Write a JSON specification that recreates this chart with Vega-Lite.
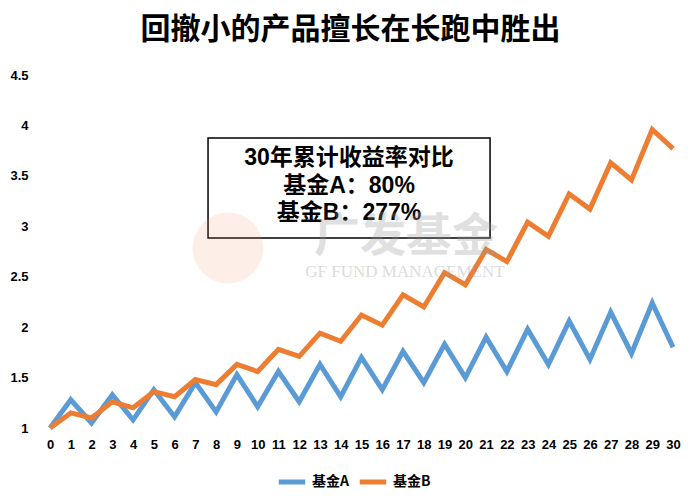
{
  "$schema": "https://vega.github.io/schema/vega-lite/v6.json",
  "width": 623,
  "height": 353,
  "autosize": "none",
  "padding": {"left": 50, "top": 75, "right": 27, "bottom": 68},
  "background": "white",
  "config": {
    "view": {"stroke": null},
    "font": "Liberation Sans, Noto Sans CJK SC",
    "axis": {"labelOverlap": false, "labelBound": false, "labelFlush": false}
  },
  "resolve": {"axis": {"x": "independent", "y": "independent"}},
  "title": {
    "text": "回撤小的产品擅长在长跑中胜出",
    "font": "Noto Sans CJK SC",
    "fontSize": 30,
    "fontWeight": "bold",
    "color": "#000000",
    "anchor": "middle",
    "dx": -11,
    "offset": 24
  },
  "datasets": {
    "funds": [
      {"year": 0, "fund": "基金A", "value": 1.0},
      {"year": 1, "fund": "基金A", "value": 1.28},
      {"year": 2, "fund": "基金A", "value": 1.05},
      {"year": 3, "fund": "基金A", "value": 1.33},
      {"year": 4, "fund": "基金A", "value": 1.08},
      {"year": 5, "fund": "基金A", "value": 1.38},
      {"year": 6, "fund": "基金A", "value": 1.11},
      {"year": 7, "fund": "基金A", "value": 1.45},
      {"year": 8, "fund": "基金A", "value": 1.16},
      {"year": 9, "fund": "基金A", "value": 1.53},
      {"year": 10, "fund": "基金A", "value": 1.21},
      {"year": 11, "fund": "基金A", "value": 1.56},
      {"year": 12, "fund": "基金A", "value": 1.26},
      {"year": 13, "fund": "基金A", "value": 1.63},
      {"year": 14, "fund": "基金A", "value": 1.31},
      {"year": 15, "fund": "基金A", "value": 1.70},
      {"year": 16, "fund": "基金A", "value": 1.38},
      {"year": 17, "fund": "基金A", "value": 1.76},
      {"year": 18, "fund": "基金A", "value": 1.45},
      {"year": 19, "fund": "基金A", "value": 1.83},
      {"year": 20, "fund": "基金A", "value": 1.50},
      {"year": 21, "fund": "基金A", "value": 1.90},
      {"year": 22, "fund": "基金A", "value": 1.56},
      {"year": 23, "fund": "基金A", "value": 1.98},
      {"year": 24, "fund": "基金A", "value": 1.63},
      {"year": 25, "fund": "基金A", "value": 2.06},
      {"year": 26, "fund": "基金A", "value": 1.68},
      {"year": 27, "fund": "基金A", "value": 2.15},
      {"year": 28, "fund": "基金A", "value": 1.74},
      {"year": 29, "fund": "基金A", "value": 2.24},
      {"year": 30, "fund": "基金A", "value": 1.80},
      {"year": 0, "fund": "基金B", "value": 1.0},
      {"year": 1, "fund": "基金B", "value": 1.15},
      {"year": 2, "fund": "基金B", "value": 1.10},
      {"year": 3, "fund": "基金B", "value": 1.26},
      {"year": 4, "fund": "基金B", "value": 1.20},
      {"year": 5, "fund": "基金B", "value": 1.36},
      {"year": 6, "fund": "基金B", "value": 1.31},
      {"year": 7, "fund": "基金B", "value": 1.48},
      {"year": 8, "fund": "基金B", "value": 1.43},
      {"year": 9, "fund": "基金B", "value": 1.63},
      {"year": 10, "fund": "基金B", "value": 1.56},
      {"year": 11, "fund": "基金B", "value": 1.78},
      {"year": 12, "fund": "基金B", "value": 1.71},
      {"year": 13, "fund": "基金B", "value": 1.94},
      {"year": 14, "fund": "基金B", "value": 1.86},
      {"year": 15, "fund": "基金B", "value": 2.12},
      {"year": 16, "fund": "基金B", "value": 2.02},
      {"year": 17, "fund": "基金B", "value": 2.32},
      {"year": 18, "fund": "基金B", "value": 2.20},
      {"year": 19, "fund": "基金B", "value": 2.54},
      {"year": 20, "fund": "基金B", "value": 2.42},
      {"year": 21, "fund": "基金B", "value": 2.77},
      {"year": 22, "fund": "基金B", "value": 2.65},
      {"year": 23, "fund": "基金B", "value": 3.04},
      {"year": 24, "fund": "基金B", "value": 2.90},
      {"year": 25, "fund": "基金B", "value": 3.32},
      {"year": 26, "fund": "基金B", "value": 3.17},
      {"year": 27, "fund": "基金B", "value": 3.63},
      {"year": 28, "fund": "基金B", "value": 3.46},
      {"year": 29, "fund": "基金B", "value": 3.96},
      {"year": 30, "fund": "基金B", "value": 3.77}
    ],
    "box": [
      {"line": "30年累计收益率对比", "order": 1},
      {"line": "基金A：80%", "order": 2},
      {"line": "基金B：277%", "order": 3}
    ],
    "single": [{"k": 1}]
  },
  "layer": [
    {
      "data": {"name": "funds"},
      "mark": {"type": "line", "strokeWidth": 5, "strokeJoin": "miter", "strokeCap": "butt"},
      "encoding": {
        "x": {
          "field": "year", "type": "quantitative",
          "scale": {"domain": [0, 30], "nice": false},
          "axis": {
            "title": null, "values": [0,1,2,3,4,5,6,7,8,9,10,11,12,13,14,15,16,17,18,19,20,21,22,23,24,25,26,27,28,29,30],
            "domain": false, "ticks": false, "grid": false, "labelOverlap": false, "format": "d",
            "labelFontSize": 13, "labelFontWeight": "bold", "labelColor": "#000000",
            "labelPadding": 10, "labelFont": "Liberation Sans"
          }
        },
        "y": {
          "field": "value", "type": "quantitative",
          "scale": {"domain": [1, 4.5], "nice": false, "zero": false},
          "axis": {
            "title": null, "values": [1, 1.5, 2, 2.5, 3, 3.5, 4, 4.5],
            "domain": false, "ticks": false, "grid": false, "labelOverlap": false, "format": "~g",
            "labelFontSize": 13, "labelFontWeight": "bold", "labelColor": "#000000",
            "labelPadding": 22, "labelFont": "Liberation Sans"
          }
        },
        "color": {
          "field": "fund", "type": "nominal",
          "scale": {"domain": ["基金A", "基金B"], "range": ["#5B9BD5", "#ED7D31"]},
          "legend": {
            "title": null, "orient": "none", "direction": "horizontal",
            "legendX": 226, "legendY": 391,
            "symbolType": "stroke", "symbolStrokeWidth": 5, "symbolSize": 700,
            "labelFontSize": 14, "labelFontWeight": "bold", "labelColor": "#000000",
            "labelFont": "Noto Sans CJK SC", "labelOffset": 4, "columnPadding": 0
          }
        }
      }
    },
    {
      "data": {"name": "single"},
      "mark": {"type": "rect", "fill": "white", "stroke": "#000000", "strokeWidth": 1.5},
      "encoding": {
        "x": {"datum": 7.61, "axis": null},
        "x2": {"datum": 21.19},
        "y": {"datum": 3.875, "axis": null},
        "y2": {"datum": 2.884}
      }
    },
    {
      "data": {"name": "box"},
      "transform": [{"filter": "datum.order == 1"}],
      "mark": {"type": "text", "fontSize": 23, "fontWeight": "bold", "color": "#000000", "font": "Liberation Sans, Noto Sans CJK SC", "align": "center", "baseline": "middle"},
      "encoding": {"x": {"datum": 14.4, "axis": null}, "y": {"datum": 3.677, "axis": null}, "text": {"field": "line"}}
    },
    {
      "data": {"name": "box"},
      "transform": [{"filter": "datum.order == 2"}],
      "mark": {"type": "text", "fontSize": 23, "fontWeight": "bold", "color": "#000000", "font": "Liberation Sans, Noto Sans CJK SC", "align": "center", "baseline": "middle"},
      "encoding": {"x": {"datum": 14.4, "axis": null}, "y": {"datum": 3.399, "axis": null}, "text": {"field": "line"}}
    },
    {
      "data": {"name": "box"},
      "transform": [{"filter": "datum.order == 3"}],
      "mark": {"type": "text", "fontSize": 23, "fontWeight": "bold", "color": "#000000", "font": "Liberation Sans, Noto Sans CJK SC", "align": "center", "baseline": "middle"},
      "encoding": {"x": {"datum": 14.4, "axis": null}, "y": {"datum": 3.132, "axis": null}, "text": {"field": "line"}}
    },
    {
      "data": {"name": "single"},
      "mark": {"type": "point", "shape": "circle", "filled": true, "color": "#F08A5D", "opacity": 0.15, "size": 5000},
      "encoding": {"x": {"datum": 8.57, "axis": null}, "y": {"datum": 2.785, "axis": null}}
    },
    {
      "data": {"name": "single"},
      "mark": {"type": "text", "text": "广发基金", "fontSize": 46, "fontWeight": "bold", "color": "#9a9a9a", "opacity": 0.3, "font": "Noto Sans CJK SC", "align": "center", "baseline": "middle"},
      "encoding": {"x": {"datum": 17.14, "axis": null}, "y": {"datum": 2.894, "axis": null}}
    },
    {
      "data": {"name": "single"},
      "mark": {"type": "text", "text": "GF FUND MANAGEMENT", "fontSize": 17, "color": "#9a9a9a", "opacity": 0.35, "font": "Liberation Serif", "align": "center", "baseline": "middle"},
      "encoding": {"x": {"datum": 17.09, "axis": null}, "y": {"datum": 2.547, "axis": null}}
    }
  ]
}
